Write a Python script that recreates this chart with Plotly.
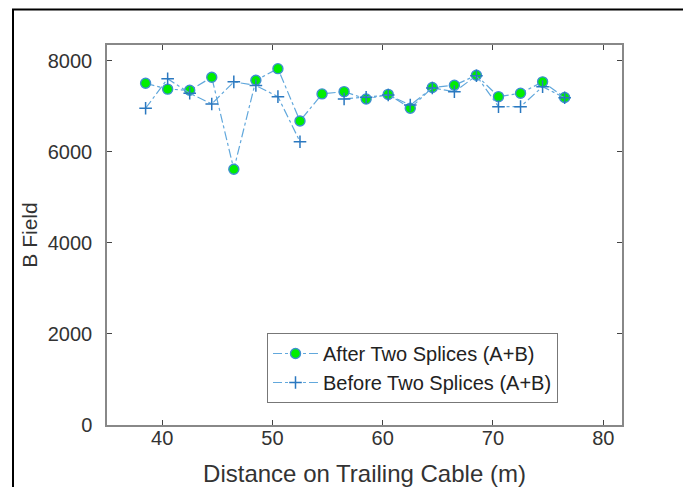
import plotly.graph_objects as go

distance = [38.5, 40.5, 42.5, 44.5, 46.5, 48.5, 50.5, 52.5, 54.5, 56.5,
            58.5, 60.5, 62.5, 64.5, 66.5, 68.5, 70.5, 72.5, 74.5, 76.5]
after_splices = [7510, 7380, 7355, 7640, 5620, 7575, 7830, 6680, 7275, 7325,
                 7165, 7265, 6960, 7415, 7465, 7685, 7215, 7290, 7540, 7195]
before_splices = [6960, 7610, 7290, 7055, 7540, 7460, 7215, 6225, None, 7165,
                  7200, 7250, 7030, 7405, 7325, 7675, 6995, 6995, 7435, 7190]

x_ticks = [40, 50, 60, 70, 80]
y_ticks = [0, 2000, 4000, 6000, 8000]

line_col = "#62a8dc"
fig = go.Figure()
fig.add_trace(go.Scatter(
    x=distance, y=after_splices, name="After Two Splices (A+B)",
    mode="lines+markers",
    line=dict(color=line_col, width=1.2, dash="dashdot"),
    marker=dict(symbol="circle", size=10, color="#00ee00",
                line=dict(color="#3d8fd0", width=1.4)),
))
fig.add_trace(go.Scatter(
    x=distance, y=before_splices, name="Before Two Splices (A+B)",
    mode="lines+markers", connectgaps=False,
    line=dict(color=line_col, width=1.2, dash="dashdot"),
    marker=dict(symbol="cross-thin", size=9, color="#2a78c0",
                line=dict(color="#2a78c0", width=1.5)),
))

# page body has an 8px margin: work in figure coordinates = window - 8
OFF = 8
W, H = 691 - OFF, 487 - OFF
L, T = 107 - OFF, 45 - OFF
R = W - (622 - OFF)
B = H - (425 - OFF)
pw, ph = W - L - R, H - T - B
x0 = (13 - OFF - L) / pw
x1 = (686 - OFF - L) / pw
y1 = (H - B - (9.5 - OFF)) / ph
y0 = -0.5

fig.update_layout(
    width=W, height=H,
    margin=dict(l=L, r=R, t=T, b=B),
    paper_bgcolor="white", plot_bgcolor="white",
    font=dict(family="Liberation Sans, Arial, sans-serif", size=20, color="#333333"),
    showlegend=True,
    legend=dict(x=(267 - 107) / pw, y=(425 - 333) / ph, xanchor="left", yanchor="top",
                bgcolor="white", bordercolor="#777777", borderwidth=1,
                font=dict(size=20, color="#222222"), tracegroupgap=0,
                itemwidth=45),
    xaxis=dict(range=[35, 81.7], tickvals=x_ticks, ticks="inside", ticklen=5,
               tickcolor="#444444", showline=True, linecolor="#888888", linewidth=1.5,
               mirror="ticks", showgrid=False, zeroline=False, automargin=False,
               ticklabelstandoff=-6,
               title=dict(text="Distance on Trailing Cable (m)", font=dict(size=24, color="#333333"),
                          standoff=22),
               tickfont=dict(size=20, color="#333333")),
    yaxis=dict(range=[0, 8350], tickvals=y_ticks, ticks="inside", ticklen=5,
               tickcolor="#444444", showline=True, linecolor="#888888", linewidth=1.5,
               mirror="ticks", showgrid=False, zeroline=False, automargin=False,
               ticklabelstandoff=9,
               title=dict(text="B Field", font=dict(size=21, color="#333333"), standoff=4),
               tickfont=dict(size=20, color="#333333")),
    shapes=[dict(type="rect", xref="paper", yref="paper", x0=x0, x1=x1, y0=y0, y1=y1,
                 line=dict(color="black", width=2), fillcolor="rgba(0,0,0,0)", layer="above")],
)

fig.write_html("out.html")
